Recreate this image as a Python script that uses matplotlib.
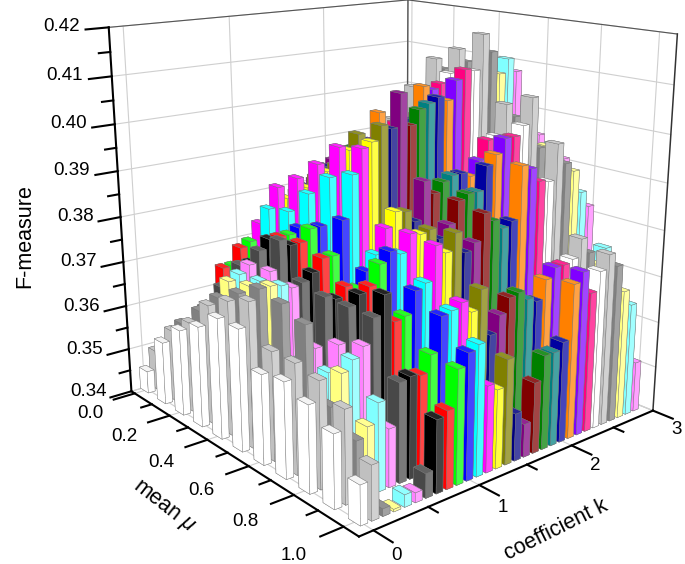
import matplotlib
matplotlib.use('Agg')
import matplotlib.pyplot as plt
import matplotlib.colors as mc
import numpy as np
from mpl_toolkits.mplot3d import proj3d

plt.rcParams['font.family'] = ['Liberation Sans', 'DejaVu Sans']
plt.rcParams['mathtext.fontset'] = 'custom'
plt.rcParams['mathtext.it'] = 'Liberation Sans:italic'
plt.rcParams['mathtext.rm'] = 'Liberation Sans'

k_values = [round(0.1 * i, 1) for i in range(30)]
mu_values = [round(0.1 * i, 1) for i in range(11)]

# one list per k, running from mean mu = 0.0 to 1.0
col_k00 = [.345, .354, .359, .362, .366, .366, .359, .360, .358, .355, .348]
col_k01 = [.349, .356, .360, .366, .369, .371, .363, .363, .362, .359, .351]
col_k02 = [.350, .357, .362, .367, .370, .373, .372, .370, .356, .352, .3415]
col_k03 = [.351, .355, .361, .370, .371, .373, .358, .358, .362, .354, .3405]
col_k04 = [.352, .358, .363, .371, .3715, .3725, .359, .359, .364, .358, .3425]
col_k05 = [.353, .359, .364, .3725, .373, .3715, .361, .364, .366, .352, .342]
col_k06 = [.356, .363, .370, .375, .379, .372, .371, .371, .371, .3605, .345]
col_k07 = [.356, .362, .370, .377, .3775, .3735, .370, .373, .375, .361, .355]
col_k08 = [.3645, .371, .372, .377, .3775, .376, .372, .374, .369, .3605, .356]
col_k09 = [.3645, .372, .373, .377, .380, .376, .371, .378, .3695, .364, .3635]
col_k10 = [.360, .368, .373, .378, .380, .383, .374, .380, .374, .371, .366]
col_k11 = [.368, .3785, .3795, .385, .390, .392, .377, .379, .375, .3715, .367]
col_k12 = [.373, .383, .3865, .391, .396, .397, .382, .3826, .382, .3725, .358]
col_k13 = [.372, .380, .384, .389, .395, .398, .385, .382, .380, .370, .3565]
col_k14 = [.372, .381, .386, .390, .398, .401, .3845, .3825, .3835, .374, .362]
col_k15 = [.373, .382, .388, .392, .396, .400, .382, .380, .379, .364, .350]
col_k16 = [.374, .383, .389, .391, .396, .407, .390, .3825, .3805, .3675, .347]
col_k17 = [.375, .384, .390, .392, .397, .400, .387, .387, .386, .3705, .355]
col_k18 = [.376, .385, .391, .392, .396, .403, .389, .388, .384, .371, .360]
col_k19 = [.376, .386, .392, .393, .398, .404, .390, .388, .382, .369, .360]
col_k20 = [.377, .386, .392, .393, .399, .405, .390, .393, .383, .368, .3615]
col_k21 = [.378, .387, .398, .396, .406, .404, .389, .395, .394, .372, .373]
col_k22 = [.379, .388, .393, .397, .405, .408, .392, .398, .393, .374, .375]
col_k23 = [.380, .389, .395, .398, .406, .410, .396, .398, .390, .374, .370]
col_k24 = [.382, .391, .393, .399, .408, .4095, .3965, .400, .3895, .3747, .374]
col_k25 = [.385, .394, .4027, .410, .413, .417, .403, .4055, .397, .3785, .377]
col_k26 = [.384, .394, .401, .4075, .410, .413, .400, .3945, .3925, .375, .374]
col_k27 = [.382, .391, .398, .404, .406, .408, .398, .3945, .3905, .372, .368]
col_k28 = [.382, .392, .400, .406, .409, .411, .400, .3945, .3855, .375, .3645]
col_k29 = [.378, .388, .396, .402, .405, .408, .395, .391, .382, .363, .351]

bar_colors = ['#FFFFFF', '#C0C0C0', '#808080', '#FFFF80', '#80FFFF', '#FF80FF',
              '#484848', '#000000', '#FF0000', '#00FF00', '#0000FF', '#00FFFF',
              '#FF00FF', '#FFFF00', '#808000', '#000080', '#800080', '#800000',
              '#008000', '#008080', '#0000A0', '#FF8000', '#8000FF', '#FF0080',
              '#FFFFFF', '#C0C0C0', '#808080', '#FFFF80', '#80FFFF', '#FF80FF']

z_major = [.34, .35, .36, .37, .38, .39, .40, .41, .42]
z_minor = [.345, .355, .365, .375, .385, .395, .405, .415]
mu_major = [0.0, 0.2, 0.4, 0.6, 0.8, 1.0]
mu_minor = [0.1, 0.3, 0.5, 0.7, 0.9]
k_major = [0, 1, 2, 3]
k_minor = [0.5, 1.5, 2.5]

values = np.array([col_k00, col_k01, col_k02, col_k03, col_k04, col_k05, col_k06, col_k07,
                   col_k08, col_k09, col_k10, col_k11, col_k12, col_k13, col_k14, col_k15,
                   col_k16, col_k17, col_k18, col_k19, col_k20, col_k21, col_k22, col_k23,
                   col_k24, col_k25, col_k26, col_k27, col_k28, col_k29])

K0, K1 = -0.127, 3.0
M0, M1 = -0.02, 1.058
Z0, Z1 = 0.34, 0.42
DK, DM = 0.066, 0.046

S = 648.5
fig = plt.figure(figsize=(6.85, 5.64), dpi=100)
ax = fig.add_axes([54.5 / 685, 7.3 / 564, S / 685, S / 564], projection='3d')
ax.computed_zorder = False
ax.set_xlim(K0, K1)
ax.set_ylim(M1, M0)
ax.set_zlim(Z0, Z1)
ax.view_init(16.27, -129.95)
ax.set_proj_type('persp', focal_length=0.356)
ax.set_box_aspect((1, 1.0014, 0.9975))
ax.set_axis_off()
fig.patch.set_facecolor('white')


def mix(c, t):
    r = np.array(mc.to_rgb(c))
    return tuple(r + (1 - r) * t)


def label(k, m, z, s, zorder):
    x, y, _ = proj3d.proj_transform(k, m, z, ax.get_proj())
    ax.text2D(x, y, s, transform=ax.transData, fontsize=13.5, ha='center', va='center', zorder=zorder)


grid = '#cfcfcf'
gl = 0.8
for z in z_major:
    ax.plot([K0, K1], [M0, M0], [z, z], color=grid, lw=gl, zorder=1)
    ax.plot([K1, K1], [M0, M1], [z, z], color=grid, lw=gl, zorder=1)
for k in k_major:
    ax.plot([k, k], [M0, M0], [Z0, Z1], color=grid, lw=gl, zorder=1)
    ax.plot([k, k], [M0, M1], [Z0, Z0], color=grid, lw=gl, zorder=1)
for m in mu_major:
    ax.plot([K1, K1], [m, m], [Z0, Z1], color=grid, lw=gl, zorder=1)
    ax.plot([K0, K1], [m, m], [Z0, Z0], color=grid, lw=gl, zorder=1)
ax.plot([K0, K1], [M0, M0], [Z0, Z0], color=grid, lw=gl, zorder=1)
ax.plot([K1, K1], [M0, M1], [Z0, Z0], color=grid, lw=gl, zorder=1)
frame = '#555555'
ax.plot([K0, K1], [M0, M0], [Z1, Z1], color=frame, lw=0.8, zorder=2)
ax.plot([K1, K1], [M0, M1], [Z1, Z1], color=frame, lw=0.8, zorder=2)
ax.plot([K1, K1], [M0, M0], [Z0, Z1], color=frame, lw=1.0, zorder=2)
ax.plot([K1, K1], [M1, M1], [Z0, Z1], color='#333333', lw=1.1, zorder=2)

order = 10
for i, m in enumerate(mu_values):
    for j in range(len(k_values) - 1, -1, -1):
        k = k_values[j]
        c = bar_colors[j]
        side = mix(c, 0.27)
        top = mix(c, 0.14)
        if c == '#FFFFFF':
            top = '#F4F4F4'
        faces = [c, top, c, side, c, side]
        art = ax.bar3d(k - DK / 2, m - DM / 2, Z0, DK, DM, values[j, i] - Z0,
                       color=faces, shade=False, edgecolor='#777777', linewidth=0.3)
        art.set_zorder(order)
        order += 1

tz = order + 10
alw = 1.5
ax.plot([K0, K0], [M0, M0], [Z0, Z1], color='k', lw=alw, zorder=tz)
ax.plot([K0, K0], [M0, M1], [Z0, Z0], color='k', lw=alw, zorder=tz)
ax.plot([K0, K1], [M1, M1], [Z0, Z0], color='k', lw=alw, zorder=tz)
for z in z_major:
    ax.plot([K0, K0 - 0.2], [M0, M0], [z, z], color='k', lw=alw, zorder=tz)
    label(K0 - 0.40, M0, z + 0.0011 + 0.0017 * (0.42 - z) / 0.08, f'{z:.2f}', tz)
for z in z_minor:
    ax.plot([K0, K0 - 0.1], [M0, M0], [z, z], color='k', lw=alw, zorder=tz)
for m in mu_major:
    ax.plot([K0, K0 - 0.2], [m, m], [Z0, Z0], color='k', lw=alw, zorder=tz)
    label(K0 - 0.42, m, Z0 - 0.0015, f'{m:.1f}', tz)
for m in mu_minor:
    ax.plot([K0, K0 - 0.1], [m, m], [Z0, Z0], color='k', lw=alw, zorder=tz)
for k in k_major:
    ax.plot([k, k], [M1, M1 + 0.07], [Z0, Z0], color='k', lw=alw, zorder=tz)
    label(k, M1 + 0.085, Z0 - 0.0020, f'{k}', tz)
for k in k_minor:
    ax.plot([k, k], [M1, M1 + 0.035], [Z0, Z0], color='k', lw=alw, zorder=tz)

fig.text(25 / 685, 1 - 236 / 564, 'F-measure', rotation=90, fontsize=15.5, ha='center', va='center')
fig.text(163 / 685, 1 - 507 / 564, 'mean $\\mu$', rotation=-38, fontsize=15.5, ha='center', va='center',
         rotation_mode='anchor')
fig.text(556 / 685, 1 - 530 / 564, 'coefficient k', rotation=26.5, fontsize=15.5, ha='center', va='center',
         rotation_mode='anchor')

fig.savefig('out.png', dpi=100)
